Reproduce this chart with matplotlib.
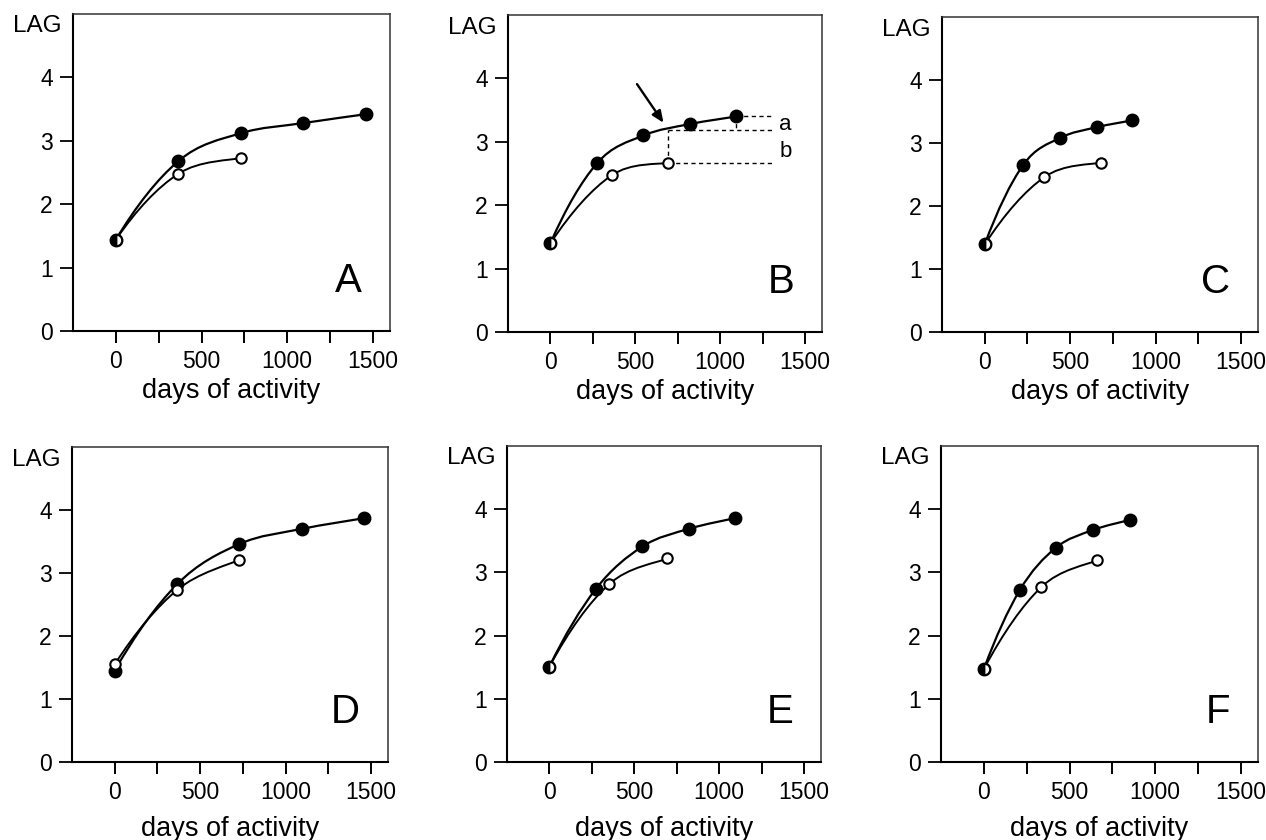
import matplotlib
matplotlib.use("Agg")
import matplotlib.pyplot as plt
import numpy as np
from matplotlib.patches import PathPatch
from matplotlib.path import Path

# ---------------------------------------------------------------------------
# Data
# ---------------------------------------------------------------------------
panel_names = ["A", "B", "C", "D", "E", "F"]

A_filled_x = [0, 365, 730, 1095, 1460]
A_filled_y = [1.44, 2.68, 3.12, 3.28, 3.42]
A_open_x = [0, 365, 730]
A_open_y = [1.44, 2.48, 2.73]

B_filled_x = [0, 274, 548, 822, 1096]
B_filled_y = [1.40, 2.66, 3.10, 3.28, 3.40]
B_open_x = [0, 360, 690]
B_open_y = [1.40, 2.47, 2.67]

C_filled_x = [0, 225, 440, 655, 865]
C_filled_y = [1.39, 2.65, 3.08, 3.25, 3.36]
C_open_x = [0, 350, 680]
C_open_y = [1.39, 2.46, 2.69]

D_filled_x = [0, 365, 730, 1095, 1460]
D_filled_y = [1.45, 2.82, 3.46, 3.70, 3.87]
D_open_x = [0, 365, 730]
D_open_y = [1.55, 2.73, 3.21]

E_filled_x = [0, 274, 548, 822, 1096]
E_filled_y = [1.51, 2.74, 3.41, 3.69, 3.86]
E_open_x = [0, 350, 695]
E_open_y = [1.51, 2.81, 3.22]

F_filled_x = [0, 210, 420, 636, 851]
F_filled_y = [1.47, 2.72, 3.39, 3.67, 3.83]
F_open_x = [0, 336, 659]
F_open_y = [1.47, 2.77, 3.19]

filled_x = [A_filled_x, B_filled_x, C_filled_x, D_filled_x, E_filled_x, F_filled_x]
filled_y = [A_filled_y, B_filled_y, C_filled_y, D_filled_y, E_filled_y, F_filled_y]
open_x = [A_open_x, B_open_x, C_open_x, D_open_x, E_open_x, F_open_x]
open_y = [A_open_y, B_open_y, C_open_y, D_open_y, E_open_y, F_open_y]

x_ticks = [0, 250, 500, 750, 1000, 1250, 1500]
x_tick_labels = ["0", "", "500", "", "1000", "", "1500"]
y_ticks = [0, 1, 2, 3, 4]

# panel B guide lines: level of the filled curve above the last open point
B_curve_level = 3.18
B_guide_end = 1320
B_arrow_from = (510, 3.91)
B_arrow_to = (666, 3.30)
B_label_a = (1385, 3.28)
B_label_b = (1385, 2.85)

# axes boxes in pixels: left, top, right, bottom
W, H = 1266, 840
boxes = [
    (73, 14, 390, 331),
    (508, 15, 822, 332),
    (942, 17, 1258, 332),
    (72, 447, 388, 762),
    (507, 446, 821, 762),
    (941, 446, 1258, 762),
]

plt.rcParams["font.family"] = ["Liberation Sans", "DejaVu Sans"]


def smooth_path(x, y):
    """Catmull-Rom curve through the points, as cubic Bezier segments.

    Start tangent from quadratic extrapolation (steep rise), end point
    repeated so the curve runs into the last point without overshoot.
    """
    p = np.column_stack([x, y]).astype(float)
    head = 3 * p[0] - 3 * p[1] + p[2] if len(p) >= 3 else p[0]
    ext = np.vstack([head, p, p[-1]])
    verts = [p[0]]
    codes = [Path.MOVETO]
    for i in range(len(p) - 1):
        p0, p1, p2, p3 = ext[i], ext[i + 1], ext[i + 2], ext[i + 3]
        verts += [p1 + (p2 - p0) / 6, p2 - (p3 - p1) / 6, p2]
        codes += [Path.CURVE4] * 3
    return Path(verts, codes)


fig = plt.figure(figsize=(W / 100, H / 100), dpi=100)

for k, name in enumerate(panel_names):
    l, t, r, b = boxes[k]
    ax = fig.add_axes([l / W, (H - b) / H, (r - l) / W, (b - t) / H])
    ax.set_xlim(-250, 1600)
    ax.set_ylim(0, 5)

    fx, fy = filled_x[k], filled_y[k]
    ox, oy = open_x[k], open_y[k]

    ax.add_patch(PathPatch(smooth_path(fx, fy), fill=False, lw=1.6,
                           ec="black", zorder=2))
    ax.add_patch(PathPatch(smooth_path(ox, oy), fill=False, lw=1.4,
                           ec="black", zorder=2))
    ax.plot(fx, fy, "o", ls="none", ms=9, mfc="black", mec="black",
            zorder=3)
    ax.plot(ox, oy, "o", ls="none", ms=7.5, mfc="white", mec="black",
            mew=1.5, zorder=4)
    if fx[0] == ox[0] and fy[0] == oy[0]:
        # shared starting point drawn half filled
        ax.plot(fx[0], fy[0], "o", ms=8, fillstyle="left", mfc="black",
                mfcalt="white", mec="black", mew=1.3, zorder=5)

    if name == "B":
        kw = dict(color="black", lw=1.0, ls=(0, (3, 2.5)), zorder=1)
        ax.plot([fx[-1], B_guide_end], [fy[-1], fy[-1]], **kw)
        ax.plot([fx[-1], fx[-1]], [fy[-1], B_curve_level], **kw)
        ax.plot([ox[-1], B_guide_end], [B_curve_level, B_curve_level], **kw)
        ax.plot([ox[-1], ox[-1]], [oy[-1], B_curve_level], **kw)
        ax.plot([ox[-1], B_guide_end], [oy[-1], oy[-1]], **kw)
        ax.text(*B_label_a, "a", fontsize=16, ha="center", va="center")
        ax.text(*B_label_b, "b", fontsize=16, ha="center", va="center")
        ax.annotate("", xy=B_arrow_to, xytext=B_arrow_from,
                    arrowprops=dict(arrowstyle="-|>,head_length=0.7,head_width=0.3",
                                    color="black", lw=1.7, shrinkA=0, shrinkB=0))

    ax.set_xticks(x_ticks)
    ax.set_xticklabels(x_tick_labels)
    ax.set_yticks(y_ticks)
    ax.tick_params(axis="x", direction="out", length=8.5, width=1.4, pad=5,
                   labelsize=16.5)
    ax.tick_params(axis="y", direction="out", length=9.5, width=1.3, pad=5,
                   labelsize=16.5)
    for side, sp in ax.spines.items():
        sp.set_linewidth(1.5 if side in ("left", "bottom") else 1.1)
        sp.set_color("black" if side in ("left", "bottom") else "#333333")

    ax.set_xlabel("days of activity", fontsize=19.5,
                  labelpad=4 if k < 3 else 9)
    ax.annotate("LAG", xy=(0, 1), xycoords="axes fraction",
                xytext=(-8, -9), textcoords="offset points",
                ha="right", va="center", fontsize=17.5)
    ax.annotate(name, xy=(1, 0), xycoords="axes fraction",
                xytext=(-20, 22), textcoords="offset points",
                ha="right", va="bottom", fontsize=29)

fig.savefig("out.png", dpi=100)
